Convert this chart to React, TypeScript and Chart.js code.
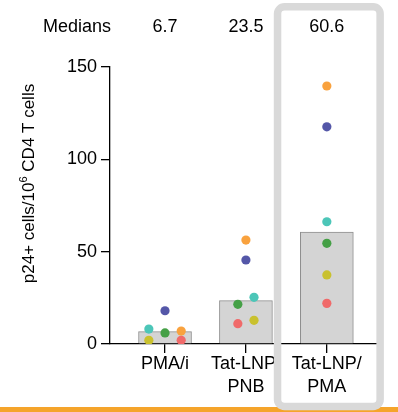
import React, { useEffect, useRef } from "react";
import { Chart, registerables } from "chart.js";

Chart.register(...registerables);

// ---- data ----
const categories: string[][] = [["PMA/i"], ["Tat-LNP/", "PNB"], ["Tat-LNP/", "PMA"]];
const medians: number[] = [6.7, 23.5, 60.6];
const medianLabel = "Medians";
const yTicks: number[] = [0, 50, 100, 150];

const donorColors: string[] = ["#5457a8", "#f9a23e", "#4cc6b8", "#45a046", "#c9c12e", "#f06a6a"];
// values per donor across the 3 groups
const donorBlue: number[] = [18.0, 45.5, 117.6];
const donorOrange: number[] = [7.0, 56.3, 139.7];
const donorTeal: number[] = [8.1, 25.3, 66.2];
const donorGreen: number[] = [6.0, 21.5, 54.5];
const donorYellow: number[] = [2.0, 12.8, 37.4];
const donorRed: number[] = [2.0, 11.0, 22.0];
const donorValues: number[][] = [donorBlue, donorOrange, donorTeal, donorGreen, donorYellow, donorRed];
// column slot of each donor's point inside a group (-1 left, 0 centre, 1 right)
const donorSlots: number[][] = [
  [0, 0, 0],
  [1, 0, 0],
  [-1, 1, 0],
  [0, -1, 0],
  [-1, 1, 0],
  [1, -1, 0],
];
const slotSpread: number[] = [0.2, 0.1, 0];

const FONT = "'Liberation Sans', Arial, sans-serif";

const overlayPlugin = {
  id: "overlay",
  afterDraw(chart: any) {
    const ctx = chart.ctx as CanvasRenderingContext2D;
    const xs = chart.scales.x;
    ctx.save();
    // medians row
    ctx.fillStyle = "#000";
    ctx.font = `18px ${FONT}`;
    ctx.textBaseline = "alphabetic";
    ctx.textAlign = "center";
    ctx.fillText(medianLabel, 77, 31.5);
    medians.forEach((m, i) => {
      ctx.fillText(m.toFixed(1), xs.getPixelForValue(i + 1), 31.5);
    });
    // y axis title with superscript
    ctx.translate(34, 183.5);
    ctx.rotate(-Math.PI / 2);
    const parts: [string, number, number][] = [
      ["p24+ cells/10", 17, 0],
      ["6", 11, -7],
      [" CD4 T cells", 17, 0],
    ];
    let total = 0;
    parts.forEach(([t, s]) => {
      ctx.font = `${s}px ${FONT}`;
      total += ctx.measureText(t).width;
    });
    let x = -total / 2;
    ctx.textAlign = "left";
    parts.forEach(([t, s, dy]) => {
      ctx.font = `${s}px ${FONT}`;
      ctx.fillText(t, x, dy);
      x += ctx.measureText(t).width;
    });
    ctx.restore();

    // orange bottom strip
    ctx.save();
    ctx.fillStyle = "#f5a42a";
    ctx.fillRect(0, 407, chart.width, 6);
    // highlight box around the last group
    const cx = xs.getPixelForValue(3) + 2;
    const half = 51.3;
    ctx.strokeStyle = "#d9d9d9";
    ctx.lineWidth = 7.5;
    ctx.beginPath();
    (ctx as any).roundRect(cx - half, 6.8, half * 2, 399.7, 7);
    ctx.stroke();
    ctx.restore();
  },
};

export default function App() {
  const ref = useRef<HTMLCanvasElement>(null);
  useEffect(() => {
    if (!ref.current) return;
    const datasets: any[] = [
      {
        type: "bar",
        data: medians.map((m, i) => ({ x: i + 1, y: m })),
        backgroundColor: "#d4d4d4",
        borderColor: "#8f8f8f",
        borderWidth: 1,
        barThickness: 53,
        order: 2,
      },
      ...donorValues.map((vals, d) => ({
        type: "scatter",
        data: vals.map((v, i) => ({ x: i + 1 + donorSlots[d][i] * slotSpread[i], y: v })),
        backgroundColor: donorColors[d],
        borderWidth: 0,
        pointRadius: 4.6,
        order: 1,
      })),
    ];
    const chart = new Chart(ref.current, {
      type: "bar",
      data: { datasets },
      options: {
        animation: false,
        responsive: false,
        devicePixelRatio: 1,
        layout: { padding: { top: 67, right: 21, bottom: 0, left: 0 } },
        plugins: { legend: { display: false }, tooltip: { enabled: false } },
        scales: {
          x: {
            type: "linear",
            min: 0.32,
            max: 3.62,
            offset: false,
            grid: { display: true, offset: false, drawOnChartArea: false, drawTicks: true, tickLength: 9, color: "#000", lineWidth: 1.3 },
            border: { display: true, color: "#000", width: 1.3 },
            afterBuildTicks: (s: any) => {
              s.ticks = categories.map((_, i) => ({ value: i + 1 }));
            },
            afterFit: (s: any) => {
              s.height = 68;
            },
            ticks: {
              autoSkip: false,
              maxRotation: 0,
              padding: -1,
              color: "#000",
              font: { family: FONT, size: 18, lineHeight: 1.3 },
              callback: (v: any) => categories[Math.round(v) - 1] ?? "",
            },
          },
          y: {
            type: "linear",
            min: 0,
            max: 150,
            grid: { display: true, drawOnChartArea: false, drawTicks: true, tickLength: 9, color: "#000", lineWidth: 1.3 },
            border: { display: true, color: "#000", width: 1.3 },
            afterBuildTicks: (s: any) => {
              s.ticks = yTicks.map((v) => ({ value: v }));
            },
            afterFit: (s: any) => {
              s.width = 110;
            },
            ticks: {
              padding: 4,
              color: "#000",
              font: { family: FONT, size: 18 },
            },
          },
        },
      },
      plugins: [overlayPlugin],
    } as any);
    return () => chart.destroy();
  }, []);
  return (
    <div style={{ position: "fixed", left: 0, top: 0, width: 398, height: 412, background: "#fff" }}>
      <canvas ref={ref} width={398} height={412} style={{ display: "block" }} />
    </div>
  );
}
